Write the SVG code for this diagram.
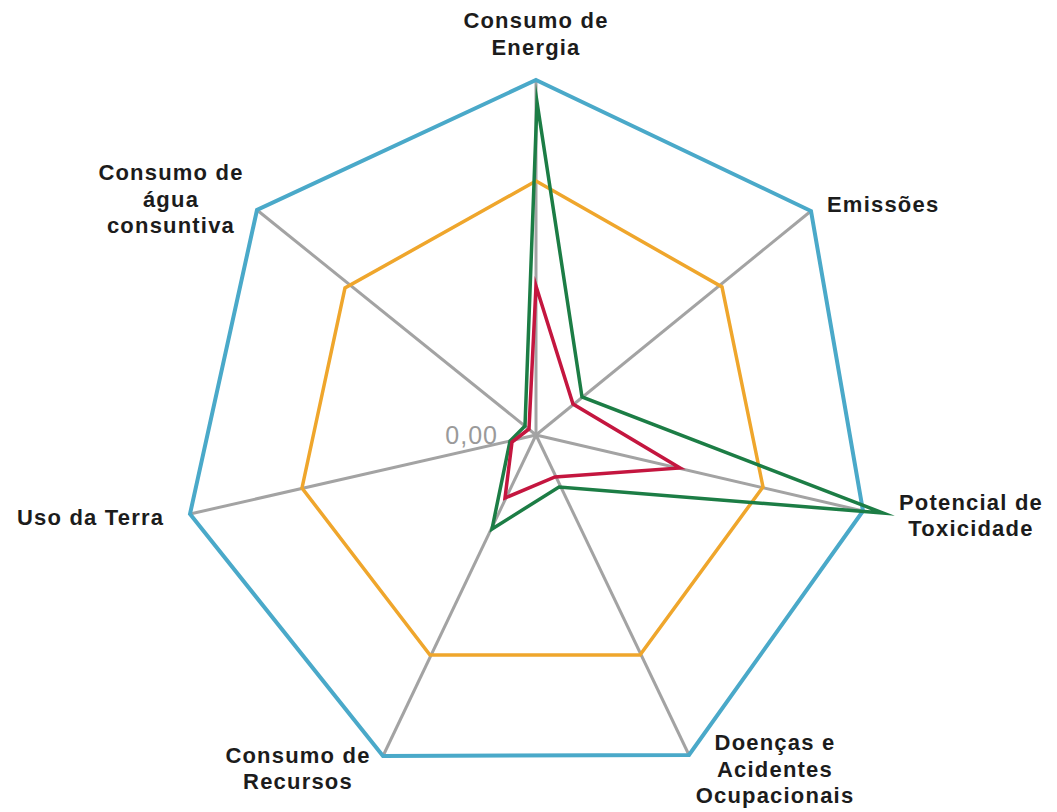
<svg xmlns="http://www.w3.org/2000/svg" width="1057" height="812" viewBox="0 0 1057 812">
<style>
.lbl{font-family:"Liberation Sans",Arial,sans-serif;font-weight:bold;font-size:22px;fill:#1c1c1c;letter-spacing:1.2px}
.axis{stroke:#a3a3a3;stroke-width:3;fill:none}
.ser{fill:none;stroke-linejoin:miter;stroke-miterlimit:20}
</style>
<rect width="1057" height="812" fill="#ffffff"/>
<g id="axes">
<line class="axis" x1="536" y1="435" x2="536" y2="80"/>
<line class="axis" x1="536" y1="435" x2="811" y2="211"/>
<line class="axis" x1="536" y1="435" x2="863" y2="511"/>
<line class="axis" x1="536" y1="435" x2="689" y2="755"/>
<line class="axis" x1="536" y1="435" x2="383" y2="756"/>
<line class="axis" x1="536" y1="435" x2="190" y2="514"/>
<line class="axis" x1="536" y1="435" x2="257" y2="210"/>
</g>
<g id="series">
<polygon id="outer" class="ser" stroke="#4aa9c9" stroke-width="4" points="536,80 811,211 863,511 689,755 383,756 190,514 257,210"/>
<polygon id="orange" class="ser" stroke="#efa62c" stroke-width="3.5" points="536,181 722,287 763,487 640,655 430,655 302,488 345,288"/>
<polygon id="green" class="ser" stroke="#1c7d45" stroke-width="3.5" points="537,102 582,397 883,513 559,487 492,529 510,441 525,426"/>
<polygon id="red" class="ser" stroke="#c4163f" stroke-width="3.5" points="536,286 573,404 680,468 555,477 505,498 512,442 529,429"/>
</g>
<text x="498" y="444" text-anchor="end" font-family="Liberation Sans,Arial,sans-serif" font-size="25" fill="#9a9a9a" letter-spacing="1">0,00</text>
<g id="label-energia"><text class="lbl" x="536" y="28" text-anchor="middle">Consumo de</text><text class="lbl" x="536" y="55" text-anchor="middle">Energia</text></g>
<g id="label-emissoes"><text class="lbl" x="827" y="212">Emissões</text></g>
<g id="label-toxicidade"><text class="lbl" x="971" y="510" text-anchor="middle">Potencial de</text><text class="lbl" x="971" y="536" text-anchor="middle">Toxicidade</text></g>
<g id="label-doencas"><text class="lbl" x="775" y="750" text-anchor="middle">Doenças e</text><text class="lbl" x="775" y="777" text-anchor="middle">Acidentes</text><text class="lbl" x="775" y="803" text-anchor="middle">Ocupacionais</text></g>
<g id="label-recursos"><text class="lbl" x="298" y="763" text-anchor="middle">Consumo de</text><text class="lbl" x="298" y="789" text-anchor="middle">Recursos</text></g>
<g id="label-terra"><text class="lbl" x="17" y="525">Uso da Terra</text></g>
<g id="label-agua"><text class="lbl" x="171" y="180" text-anchor="middle">Consumo de</text><text class="lbl" x="171" y="207" text-anchor="middle">água</text><text class="lbl" x="171" y="233" text-anchor="middle">consuntiva</text></g>
</svg>
